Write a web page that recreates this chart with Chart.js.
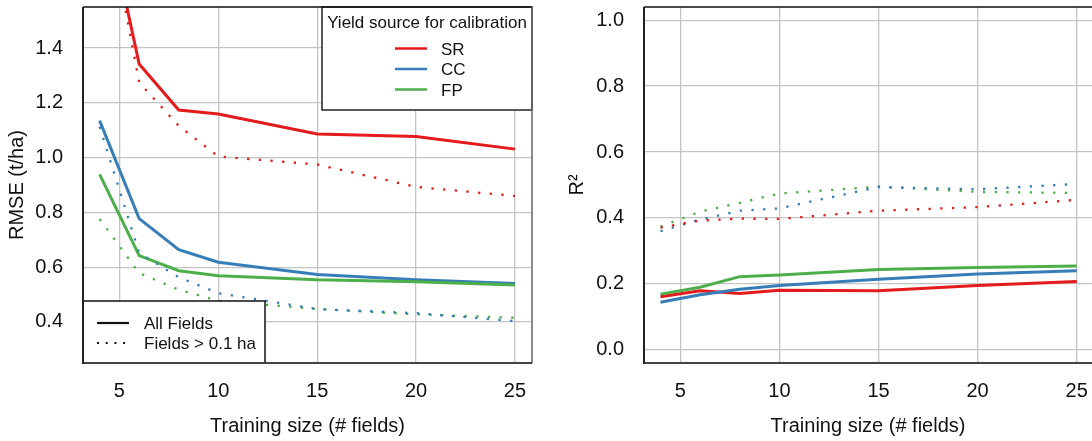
<!DOCTYPE html>
<html>
<head>
<meta charset="utf-8">
<script src="https://cdn.jsdelivr.net/npm/chart.js@4.4.1/dist/chart.umd.min.js"></script>
<style>
  html, body { margin: 0; padding: 0; background: #fff; }
  #rmse { position: absolute; left: 0; top: 0; }
  #r2 { position: absolute; left: 560px; top: 0; }
</style>
</head>
<body>
<canvas id="rmse" width="540" height="441"></canvas>
<canvas id="r2" width="532" height="441"></canvas>
<script>
// ---------- DATOS ----------
const trainingSize = [4, 6, 8, 10, 15, 20, 25];
const xTicks = [5, 10, 15, 20, 25];
const rmseTicks = [0.4, 0.6, 0.8, 1.0, 1.2, 1.4];
const r2Ticks = [0.0, 0.2, 0.4, 0.6, 0.8, 1.0];

const seriesNames = ['SR', 'CC', 'FP'];
const seriesColors = ['#E41A1C', '#377EB8', '#4DAF4A'];
const styleNames = ['All Fields', 'Fields > 0.1 ha'];

// RMSE (t/ha) - todos los campos / campos > 0.1 ha
const rmseSrAll = [2.01, 1.342, 1.174, 1.159, 1.086, 1.077, 1.031];
const rmseCcAll = [1.135, 0.777, 0.664, 0.618, 0.573, 0.554, 0.540];
const rmseFpAll = [0.939, 0.642, 0.587, 0.569, 0.554, 0.547, 0.535];
const rmseSrBig = [2.04, 1.274, 1.116, 1.004, 0.975, 0.893, 0.860];
const rmseCcBig = [1.113, 0.652, 0.563, 0.505, 0.447, 0.432, 0.403];
const rmseFpBig = [0.776, 0.578, 0.518, 0.477, 0.447, 0.428, 0.415];

// R2
const r2SrAll = [0.161, 0.179, 0.171, 0.181, 0.179, 0.195, 0.207];
const r2CcAll = [0.144, 0.167, 0.184, 0.195, 0.214, 0.230, 0.240];
const r2FpAll = [0.169, 0.190, 0.222, 0.227, 0.244, 0.250, 0.254];
const r2SrBig = [0.371, 0.392, 0.398, 0.397, 0.422, 0.433, 0.455];
const r2CcBig = [0.360, 0.395, 0.422, 0.429, 0.494, 0.487, 0.503];
const r2FpBig = [0.374, 0.419, 0.446, 0.474, 0.495, 0.479, 0.476];

const FONT = "'Liberation Sans', Arial, sans-serif";

// ---------- SERIES ----------
function serie(values, color, dotted) {
    return {
        data: trainingSize.map((x, i) => ({ x: x, y: values[i] })),
        borderColor: color,
        borderWidth: dotted ? 2.3 : 3,
        borderDash: dotted ? [2.3, 9.4] : [],
        pointRadius: 0,
        fill: false,
        tension: 0,
        clip: 0
    };
}

// ---------- MARCO DEL PANEL ----------
function drawFrame(chart, withRight) {
    const { ctx, chartArea: a } = chart;
    ctx.save();
    ctx.setLineDash([]);
    ctx.lineWidth = 1.5;
    ctx.strokeStyle = '#111';
    ctx.beginPath(); ctx.moveTo(a.left, a.top); ctx.lineTo(a.right, a.top); ctx.stroke();
    if (withRight) {
        ctx.strokeStyle = '#666';
        ctx.beginPath(); ctx.moveTo(a.right, a.top); ctx.lineTo(a.right, a.bottom); ctx.stroke();
    }
    ctx.lineWidth = 2;
    ctx.strokeStyle = '#444';
    ctx.beginPath(); ctx.moveTo(a.left, a.bottom); ctx.lineTo(a.right, a.bottom); ctx.stroke();
    ctx.strokeStyle = '#222';
    ctx.beginPath(); ctx.moveTo(a.left, a.top); ctx.lineTo(a.left, a.bottom + 1); ctx.stroke();
    ctx.restore();
}

// ---------- LEYENDAS ----------
const rmseLegends = {
    id: 'rmseLegends',
    afterDatasetsDraw(chart) {
        const { ctx, chartArea: a } = chart;
        ctx.save();
        ctx.font = '17px ' + FONT;
        ctx.textBaseline = 'middle';

        // fuente del rendimiento (arriba a la derecha)
        const bw = 210, bh = 103;
        const bx = a.right - bw, by = a.top;
        ctx.fillStyle = '#fff';
        ctx.fillRect(bx, by, bw, bh);
        ctx.lineWidth = 1.5;
        ctx.strokeStyle = '#222';
        ctx.strokeRect(bx, by, bw, bh);
        ctx.fillStyle = '#111';
        ctx.textAlign = 'center';
        ctx.fillText('Yield source for calibration', bx + bw / 2, by + 16);
        ctx.textAlign = 'left';
        seriesNames.forEach((name, i) => {
            const y = by + 41.5 + i * 20.5;
            ctx.strokeStyle = seriesColors[i];
            ctx.lineWidth = 2.5;
            ctx.beginPath(); ctx.moveTo(bx + 73, y); ctx.lineTo(bx + 105, y); ctx.stroke();
            ctx.fillText(name, bx + 119, y + 1.5);
        });

        // tipo de línea (abajo a la izquierda)
        const lw = 182, lh = 62;
        const lx = a.left, ly = a.bottom - lh;
        ctx.fillStyle = '#fff';
        ctx.fillRect(lx, ly, lw, lh);
        ctx.lineWidth = 1.5;
        ctx.strokeStyle = '#111';
        ctx.strokeRect(lx, ly, lw, lh);
        styleNames.forEach((name, i) => {
            const y = ly + 22 + i * 20;
            ctx.strokeStyle = '#111';
            ctx.lineWidth = i === 0 ? 2.2 : 2;
            ctx.setLineDash(i === 0 ? [] : [2, 6.7]);
            ctx.beginPath(); ctx.moveTo(lx + 14, y); ctx.lineTo(lx + 46, y); ctx.stroke();
            ctx.setLineDash([]);
            ctx.fillStyle = '#111';
            ctx.fillText(name, lx + 61, y + 1);
        });
        ctx.restore();
        drawFrame(chart, true);
    }
};

const r2Frame = {
    id: 'r2Frame',
    afterDatasetsDraw(chart) { drawFrame(chart, false); }
};

// ---------- OPCIONES ----------
function makeOptions(cfg) {
    const tickFont = { family: FONT, size: 20 };
    return {
        responsive: false,
        animation: false,
        events: [],
        layout: { padding: { top: 7, right: cfg.padRight, bottom: 0, left: 0 } },
        plugins: { legend: { display: false }, tooltip: { enabled: false } },
        scales: {
            x: {
                type: 'linear',
                min: cfg.xMin,
                max: cfg.xMax,
                afterBuildTicks: s => { s.ticks = xTicks.map(v => ({ value: v })); },
                afterFit: s => { s.height = 78; s.paddingLeft = 0; s.paddingRight = 0; },
                grid: { color: '#c4c4c4', lineWidth: 1.3, drawTicks: false },
                border: { display: false },
                ticks: { font: tickFont, color: '#111', padding: 16, maxRotation: 0, autoSkip: false },
                title: {
                    display: true, text: 'Training size (# fields)', font: tickFont, color: '#111',
                    padding: { top: 0, bottom: 3 }
                }
            },
            y: {
                min: cfg.yMin,
                max: cfg.yMax,
                afterBuildTicks: s => { s.ticks = cfg.yTicks.map(v => ({ value: v })); },
                afterFit: s => { s.width = cfg.yWidth; s.paddingTop = 0; s.paddingBottom = 0; },
                grid: { color: '#c4c4c4', lineWidth: 1.3, drawTicks: false },
                border: { display: false },
                ticks: { font: tickFont, color: '#111', padding: 20, callback: v => v.toFixed(1) },
                title: {
                    display: true, text: cfg.yTitle, font: tickFont, color: '#111',
                    padding: { top: 5, bottom: 0 }
                }
            }
        }
    };
}

// ---------- GRÁFICAS ----------
new Chart(document.getElementById('rmse'), {
    type: 'line',
    data: {
        datasets: [
            serie(rmseSrBig, seriesColors[0], true),
            serie(rmseCcBig, seriesColors[1], true),
            serie(rmseFpBig, seriesColors[2], true),
            serie(rmseFpAll, seriesColors[2], false),
            serie(rmseCcAll, seriesColors[1], false),
            serie(rmseSrAll, seriesColors[0], false)
        ]
    },
    options: makeOptions({
        xMin: 3.16, xMax: 25.86, yMin: 0.25, yMax: 1.55,
        yTicks: rmseTicks, yWidth: 83, padRight: 8, yTitle: 'RMSE (t/ha)'
    }),
    plugins: [rmseLegends]
});

new Chart(document.getElementById('r2'), {
    type: 'line',
    data: {
        datasets: [
            serie(r2SrBig, seriesColors[0], true),
            serie(r2CcBig, seriesColors[1], true),
            serie(r2FpBig, seriesColors[2], true),
            serie(r2FpAll, seriesColors[2], false),
            serie(r2CcAll, seriesColors[1], false),
            serie(r2SrAll, seriesColors[0], false)
        ]
    },
    options: makeOptions({
        xMin: 3.17, xMax: 25.77, yMin: -0.04, yMax: 1.04,
        yTicks: r2Ticks, yWidth: 84, padRight: 0, yTitle: 'R²'
    }),
    plugins: [r2Frame]
});
</script>
</body>
</html>
